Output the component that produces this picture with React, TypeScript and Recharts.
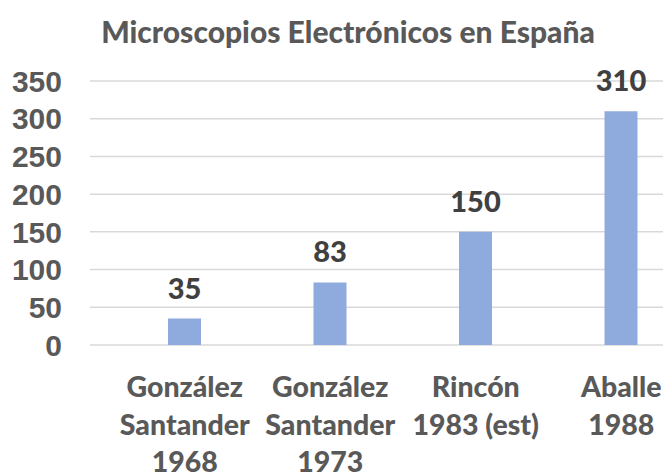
import { BarChart, Bar, XAxis, YAxis, CartesianGrid, LabelList } from 'recharts'

const categories = ['González\nSantander\n1968', 'González\nSantander\n1973', 'Rincón\n1983 (est)', 'Aballe\n1988']
const microscopes = [35, 83, 150, 310]
const yTicks = [0, 50, 100, 150, 200, 250, 300, 350]

const chartData = categories.map((name, i) => ({ name, value: microscopes[i] }))

const gray = '#595959'

function CategoryTick({ x, y, payload }: any) {
  const lines = String(payload.value).split('\n')
  return (
    <text x={x} y={y} textAnchor="middle" fill={gray} fontFamily="Lato" fontWeight={900} fontSize={28.5}>
      {lines.map((line, i) => (
        <tspan key={i} x={x} y={y + 50 + i * 37.5}>
          {line}
        </tspan>
      ))}
    </text>
  )
}

export default function App() {
  return (
    <div style={{ position: 'absolute', left: 0, top: 0, width: 663, height: 475, overflow: 'hidden', background: '#fff' }}>
      <svg width={663} height={60} style={{ position: 'absolute', left: 0, top: 0 }}>
        <text x={348} y={43} textAnchor="middle" fill={gray} fontFamily="Lato" fontWeight={900} fontSize={30}>
          Microscopios Electrónicos en España
        </text>
      </svg>
      <BarChart
        width={694}
        height={475}
        data={chartData}
        margin={{ top: 81, right: 0, left: 0, bottom: 0 }}
        style={{ position: 'absolute', left: 0, top: 0 }}
      >
        <CartesianGrid vertical={false} stroke="#d9d9d9" strokeWidth={1.5} />
        <XAxis
          dataKey="name"
          height={130}
          axisLine={false}
          tickLine={false}
          tickSize={0}
          interval={0}
          padding={{ left: 22, right: 0 }}
          tick={<CategoryTick />}
        />
        <YAxis
          width={90}
          domain={[0, 350]}
          ticks={yTicks}
          interval={0}
          axisLine={false}
          tickLine={false}
          tickSize={0}
          tickMargin={28}
          tick={{ fill: gray, fontFamily: 'Liberation Sans', fontWeight: 'bold', fontSize: 30 }}
        />
        <Bar dataKey="value" fill="#8FAADC" barSize={33} isAnimationActive={false}>
          <LabelList
            dataKey="value"
            position="top"
            offset={20}
            fill="#404040"
            fontFamily="Lato"
            fontWeight={900}
            fontSize={29}
          />
        </Bar>
      </BarChart>
    </div>
  )
}
